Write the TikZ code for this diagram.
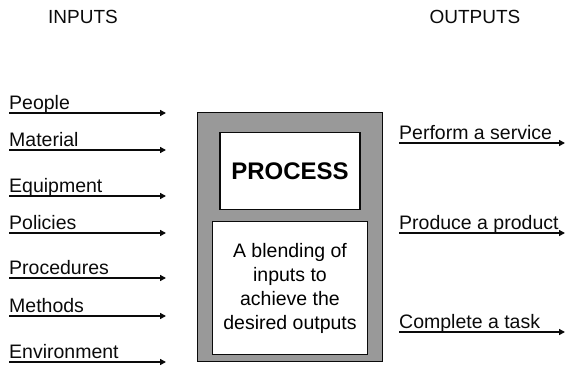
\documentclass[tikz,border=0pt]{standalone}
\usepackage{fontspec}
\setmainfont{Liberation Sans}
\usepackage{xcolor}
\usepackage{tikz}
\usetikzlibrary{arrows.meta, positioning, calc}
\definecolor{framegray}{RGB}{153, 153, 153}
\definecolor{inkblack}{RGB}{10, 10, 10}

\begin{document}
\begin{tikzpicture}[
    x=1pt, y=-1pt,
    heading/.style={font=\fontsize{19}{21}\selectfont, text=inkblack, inner sep=0pt},
    itemlabel/.style={anchor=base west, font=\fontsize{19.5}{22}\selectfont, text=inkblack, inner sep=0pt},
    outerbox/.style={draw=inkblack, fill=framegray, line width=1.6pt},
    innerbox/.style={draw=inkblack, fill=white, line width=1.6pt, align=center},
    line/.style={draw, -{Triangle[length=6pt, width=6pt]}, line width=1.5pt, color=inkblack}
]
    \useasboundingbox (0,0) rectangle (565,369);

    % column headings
    \node [heading] (inputs)  at (83,17)  {INPUTS};
    \node [heading] (outputs) at (475,17) {OUTPUTS};

    % process block
    \node [outerbox, minimum width=185pt, minimum height=249pt] (frame) at (290,237) {};
    \node [innerbox, minimum width=140pt, minimum height=77pt,
           font=\fontsize{24}{26}\selectfont\bfseries] (process) at (290,171) {PROCESS};
    \node [innerbox, minimum width=155pt, minimum height=133pt,
           font=\fontsize{19.5}{24}\selectfont] (blend) at (290,288)
           {A blending of\\inputs to\\achieve the\\desired outputs};

    % inputs
    \node [itemlabel] (people)      at (9,109) {People};
    \node [itemlabel] (material)    at (9,146) {Material};
    \node [itemlabel] (equipment)   at (9,192) {Equipment};
    \node [itemlabel] (policies)    at (9,229) {Policies};
    \node [itemlabel] (procedures)  at (9,274) {Procedures};
    \node [itemlabel] (methods)     at (9,312) {Methods};
    \node [itemlabel] (environment) at (9,358) {Environment};

    \coordinate (peopleend)      at (166,113);
    \coordinate (materialend)    at (166,150);
    \coordinate (equipmentend)   at (166,196);
    \coordinate (policiesend)    at (166,233);
    \coordinate (proceduresend)  at (166,278);
    \coordinate (methodsend)     at (166,316);
    \coordinate (environmentend) at (166,362);

    \path [line] (people.base west |- peopleend)           -- (peopleend);
    \path [line] (material.base west |- materialend)       -- (materialend);
    \path [line] (equipment.base west |- equipmentend)     -- (equipmentend);
    \path [line] (policies.base west |- policiesend)       -- (policiesend);
    \path [line] (procedures.base west |- proceduresend)   -- (proceduresend);
    \path [line] (methods.base west |- methodsend)         -- (methodsend);
    \path [line] (environment.base west |- environmentend) -- (environmentend);

    % outputs
    \node [itemlabel] (service) at (399,139) {Perform a service};
    \node [itemlabel] (product) at (399,229) {Produce a product};
    \node [itemlabel] (task)    at (399,328) {Complete a task};

    \coordinate (serviceend) at (565,143);
    \coordinate (productend) at (565,233);
    \coordinate (taskend)    at (565,332);

    \path [line] (service.base west |- serviceend) -- (serviceend);
    \path [line] (product.base west |- productend) -- (productend);
    \path [line] (task.base west |- taskend)       -- (taskend);
\end{tikzpicture}
\end{document}
